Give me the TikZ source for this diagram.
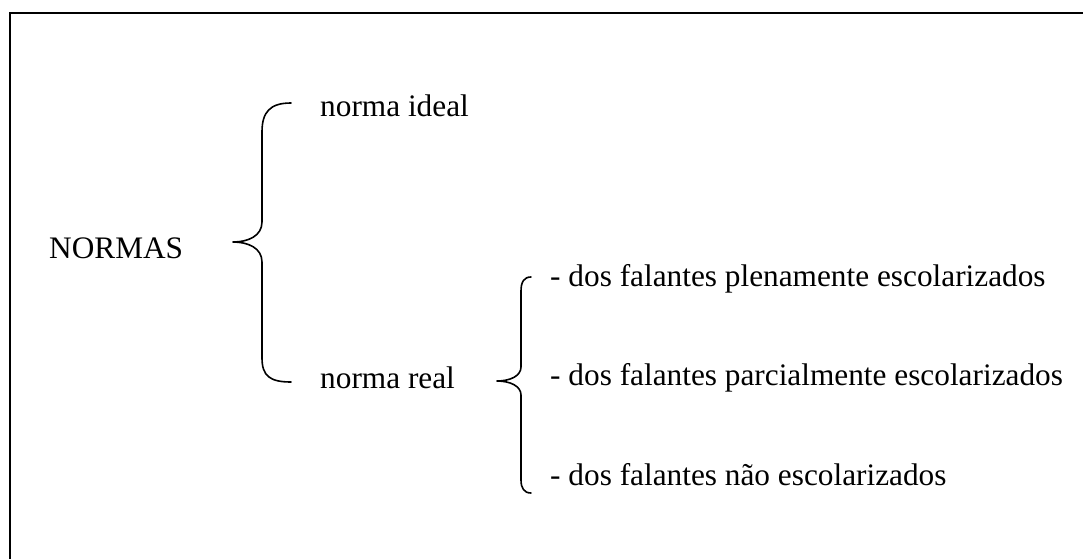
\documentclass[tikz,border=0pt]{standalone}
\usepackage{fontspec}
\setmainfont{Liberation Serif}
\begin{document}
\begin{tikzpicture}[x=1pt,y=-1pt,
  lbl/.style={anchor=base west,inner sep=0pt,font=\fontsize{31.3}{36}\selectfont},
  brace/.style={line width=1.6pt,line cap=round,line join=round},
  frame/.style={line width=2pt}]
\useasboundingbox (0,0) rectangle (1083,559);
\draw[frame] (9.5,559) -- (9.5,13) -- (1083,13);
% texts
\node[lbl] (normas) at (49,258) {NORMAS};
\node[lbl] (ideal) at (320,117) {norma ideal};
\node[lbl] (real) at (320,388) {norma real};
\node[lbl] (plena) at (550,286) {- dos falantes plenamente escolarizados};
\node[lbl] (parc) at (550,385) {- dos falantes parcialmente escolarizados};
\node[lbl] (nao) at (550,485) {- dos falantes não escolarizados};
% big brace
\draw[brace] (291,103) .. controls (270,103) and (262,112) .. (262,132)
  -- (262,222) .. controls (262,236) and (248,242) .. (233,242)
  .. controls (248,242) and (262,248) .. (262,262)
  -- (262,358) .. controls (262,376) and (270,382) .. (291,382);
% small brace
\draw[brace] (531,277) .. controls (524,277) and (521,282) .. (521,291)
  -- (521,367) .. controls (521,376) and (510,381) .. (497,381)
  .. controls (510,381) and (521,386) .. (521,395)
  -- (521,480) .. controls (521,488) and (524,493) .. (531,493);
\end{tikzpicture}
\end{document}
